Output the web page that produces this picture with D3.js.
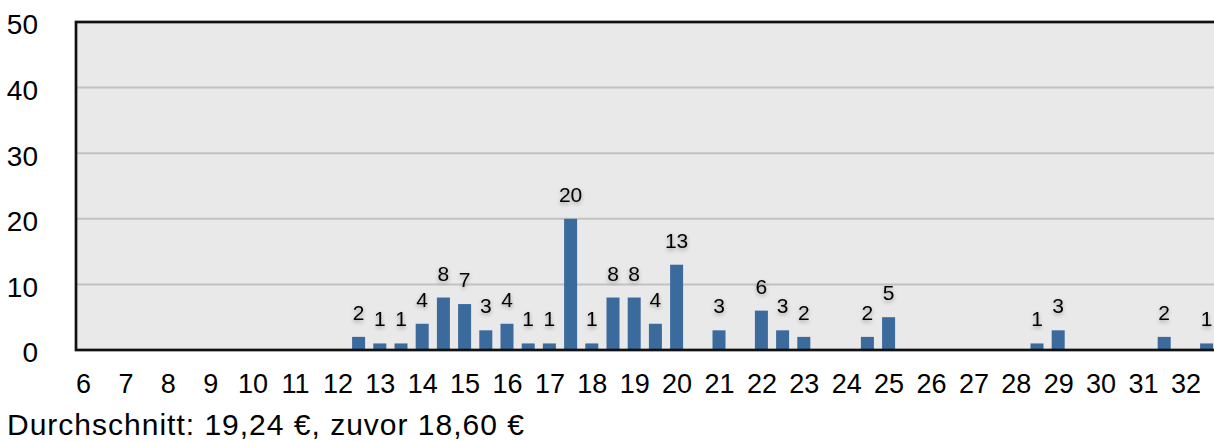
<!DOCTYPE html>
<html><head><meta charset="utf-8">
<script src="https://cdn.jsdelivr.net/npm/d3@7"></script>
<style>
html,body{margin:0;padding:0;background:#fff;}
svg{display:block;}
text{font-family:Helvetica, Arial, "Liberation Sans", sans-serif;fill:#000;}
</style></head>
<body>
<svg id="c" width="1214" height="441"></svg>
<script>
const binCenters = [12.5,13,13.5,14,14.5,15,15.5,16,16.5,17,17.5,18,18.5,19,19.5,20,21,22,22.5,23,24.5,25,28.5,29,31.5,32.5];
const counts     = [2,1,1,4,8,7,3,4,1,1,20,1,8,8,4,13,3,6,3,2,2,5,1,3,2,1];
const xTickValues = d3.range(6,33);
const yTickValues = [0,10,20,30,40,50];
const caption = "Durchschnitt: 19,24 €, zuvor 18,60 €";

const svg = d3.select("#c");
const x = d3.scaleLinear().domain([6,32]).range([83,83+26*42.4]);
const y = d3.scaleLinear().domain([0,50]).range([350,22]);
const left = 76, right = 1240;

const defs = svg.append("defs");
const f = defs.append("filter").attr("id","glow").attr("x","-50%").attr("y","-50%").attr("width","200%").attr("height","200%");
f.append("feGaussianBlur").attr("in","SourceAlpha").attr("stdDeviation",2.2).attr("result","b");
f.append("feOffset").attr("in","b").attr("dy",1.5).attr("result","o");
f.append("feComponentTransfer").attr("in","o").attr("result","s").append("feFuncA").attr("type","linear").attr("slope",0.35);
const m = f.append("feMerge"); m.append("feMergeNode").attr("in","s"); m.append("feMergeNode").attr("in","SourceGraphic");

// plot background
svg.append("rect").attr("x",left).attr("y",y(50)).attr("width",right-left).attr("height",y(0)-y(50)).attr("fill","#e9e9e9");

// gridlines
svg.append("g").selectAll("line").data(yTickValues.filter(v=>v>0&&v<50)).join("line")
  .attr("x1",left).attr("x2",right).attr("y1",d=>y(d)).attr("y2",d=>y(d))
  .attr("stroke","#c2c2c2").attr("stroke-width",2);

// bars
const bw = 13;
svg.append("g").selectAll("rect").data(binCenters).join("rect")
  .attr("x",(d)=>x(d)-bw/2).attr("width",bw)
  .attr("y",(d,i)=>y(counts[i])).attr("height",(d,i)=>y(0)-y(counts[i]))
  .attr("fill","#3b6a9d");

// border
svg.append("rect").attr("x",left).attr("y",y(50)).attr("width",right-left).attr("height",y(0)-y(50))
  .attr("fill","none").attr("stroke","#111").attr("stroke-width",2.7);

// value labels
svg.append("g").selectAll("text").data(binCenters).join("text")
  .attr("x",d=>x(d)).attr("y",(d,i)=>y(counts[i])-17)
  .attr("text-anchor","middle").attr("font-size",21).attr("filter","url(#glow)")
  .text((d,i)=>counts[i]);

// y axis labels
const yAxis = d3.axisLeft(y).tickValues(yTickValues).tickSize(0).tickPadding(0).tickFormat(d3.format("d"));
const gy = svg.append("g").attr("transform","translate(38,2)").call(yAxis);
gy.select(".domain").remove();
gy.selectAll("text").attr("font-size",28).attr("font-family",null).attr("fill","#000").attr("dy","0.35em");

// x axis labels
const xAxis = d3.axisBottom(x).tickValues(xTickValues).tickSize(0).tickPadding(0).tickFormat(d3.format("d"));
const gx = svg.append("g").attr("transform","translate(0,393)").call(xAxis);
gx.select(".domain").remove();
gx.selectAll("text").attr("font-size",27).attr("font-family",null).attr("fill","#000").attr("dy",0).attr("y",0);

svg.append("text").attr("x",7).attr("y",435).attr("font-size",30).attr("letter-spacing",1).text(caption);
</script>
</body></html>
